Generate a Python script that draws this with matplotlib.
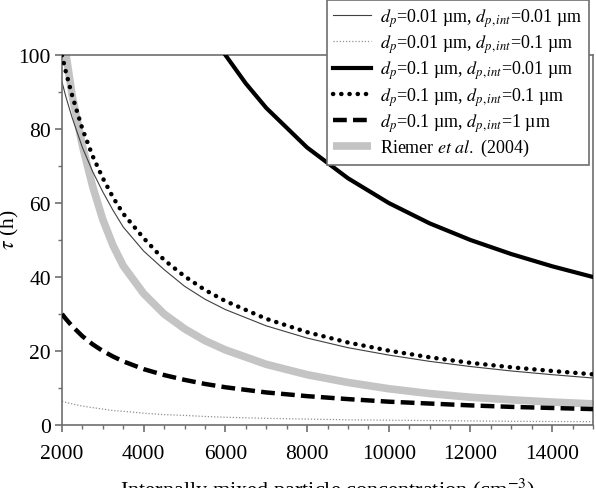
import matplotlib
matplotlib.use("Agg")
import matplotlib.pyplot as plt
from matplotlib.ticker import MultipleLocator

plt.rcParams['font.family'] = ['Liberation Serif', 'DejaVu Serif']
plt.rcParams['mathtext.fontset'] = 'stix'

# particle concentration (cm^-3)
conc = [2000, 2100, 2250, 2500, 2750, 3000, 3250, 3500, 4000, 4500, 5000, 5500,
        6000, 7000, 8000, 9000, 10000, 11000, 12000, 13000, 14000, 15000]

# tau (h)
tau_001_001 = [92.7, 88.5, 83.0, 75.0, 68.5, 63.0, 58.0, 53.5, 47.0, 42.0, 37.5, 34.0,
               31.2, 26.8, 23.5, 20.9, 18.9, 17.2, 15.8, 14.6, 13.6, 12.7]
tau_001_01 = [6.4, 6.1, 5.7, 5.1, 4.7, 4.3, 3.9, 3.7, 3.2, 2.8, 2.6, 2.3,
              2.1, 1.8, 1.6, 1.4, 1.3, 1.2, 1.1, 1.0, 0.95, 0.9]
tau_01_01 = [100.0, 95.2, 89.0, 80.0, 72.7, 66.7, 61.5, 57.1, 50.5, 44.6, 40.2, 36.5,
             33.5, 28.7, 25.1, 22.3, 20.1, 18.3, 16.8, 15.6, 14.6, 13.7]
tau_01_1 = [30.0, 28.6, 26.7, 24.0, 21.8, 20.0, 18.5, 17.2, 15.1, 13.5, 12.2, 11.1,
            10.2, 8.8, 7.8, 7.0, 6.3, 5.8, 5.3, 4.9, 4.6, 4.3]
tau_riemer = [108.0, 100.0, 89.0, 75.5, 64.5, 55.5, 48.5, 43.0, 35.5, 30.0, 26.0, 22.8,
              20.3, 16.4, 13.6, 11.5, 9.8, 8.5, 7.5, 6.8, 6.2, 5.7]

conc_01_001 = [6000, 6500, 7000, 8000, 9000, 10000, 11000, 12000, 13000, 14000, 15000]
tau_01_001 = [100.0, 92.3, 85.7, 75.0, 66.7, 60.0, 54.5, 50.0, 46.2, 42.9, 40.0]

fig = plt.figure(figsize=(5.96, 4.89), dpi=100)
ax = fig.add_axes([62 / 596, 1 - 426 / 489, 531 / 596, 370 / 489])

ax.plot(conc, tau_riemer, color='#c4c4c4', lw=5.5, solid_capstyle='butt', zorder=1,
        label=r'Riemer $et\ al.$ (2004)')
ax.plot(conc, tau_001_001, color='#404040', lw=0.8, zorder=2,
        label=r'$d_p$=0.01 µm, $d_{p,int}$=0.01 µm')
ax.plot(conc, tau_001_01, color='#909090', lw=0.9, ls=(0, (1, 1.5)), zorder=2,
        label=r'$d_p$=0.01 µm, $d_{p,int}$=0.1 µm')
ax.plot(conc_01_001, tau_01_001, color='black', lw=3, zorder=3,
        label=r'$d_p$=0.1 µm, $d_{p,int}$=0.01 µm')
ax.plot(conc, tau_01_01, color='black', lw=3.2, ls=(0, (0.05, 1.8)), dash_capstyle='round',
        zorder=3, label=r'$d_p$=0.1 µm, $d_{p,int}$=0.1 µm')
ax.plot(conc, tau_01_1, color='black', lw=3.2, ls=(0, (3.1, 1.4)), zorder=3,
        label=r'$d_p$=0.1 µm, $d_{p,int}$=1 µm')

ax.set_xlim(2000, 15000)
ax.set_ylim(0, 100)
ax.xaxis.set_major_locator(MultipleLocator(2000))
ax.xaxis.set_minor_locator(MultipleLocator(500))
ax.yaxis.set_major_locator(MultipleLocator(20))
ax.yaxis.set_minor_locator(MultipleLocator(10))

spine_col = '#6e6e6e'
for s in ax.spines.values():
    s.set_color(spine_col)
    s.set_linewidth(1.2)
ax.tick_params(which='major', direction='out', length=5, width=1.2, color=spine_col,
               labelsize=15.5)
ax.tick_params(axis='x', which='major', pad=9)
ax.tick_params(axis='y', which='major', pad=3)
ax.tick_params(which='minor', direction='out', length=3, width=1, color=spine_col)

ax.set_xlabel(r'Internally mixed particle concentration (cm$^{-3}$)', fontsize=16)
ax.xaxis.set_label_coords(0.5, -0.138)
ax.xaxis.label.set_va('top')
ax.set_ylabel(r'$\tau$ (h)', fontsize=15.5)
ax.yaxis.set_label_coords(-0.077, 0.53)

handles, labels = ax.get_legend_handles_labels()
order = [1, 2, 3, 4, 5, 0]
leg = fig.legend([handles[i] for i in order], [labels[i] for i in order],
                 loc='upper right', bbox_to_anchor=(589 / 596, 0.998), fontsize=13,
                 frameon=True, fancybox=False, edgecolor=spine_col, framealpha=1,
                 handlelength=2.1, handletextpad=0.5, labelspacing=0.2,
                 borderpad=0.35, borderaxespad=0)
leg.get_frame().set_linewidth(1.2)

fig.savefig('out.png', dpi=100)
